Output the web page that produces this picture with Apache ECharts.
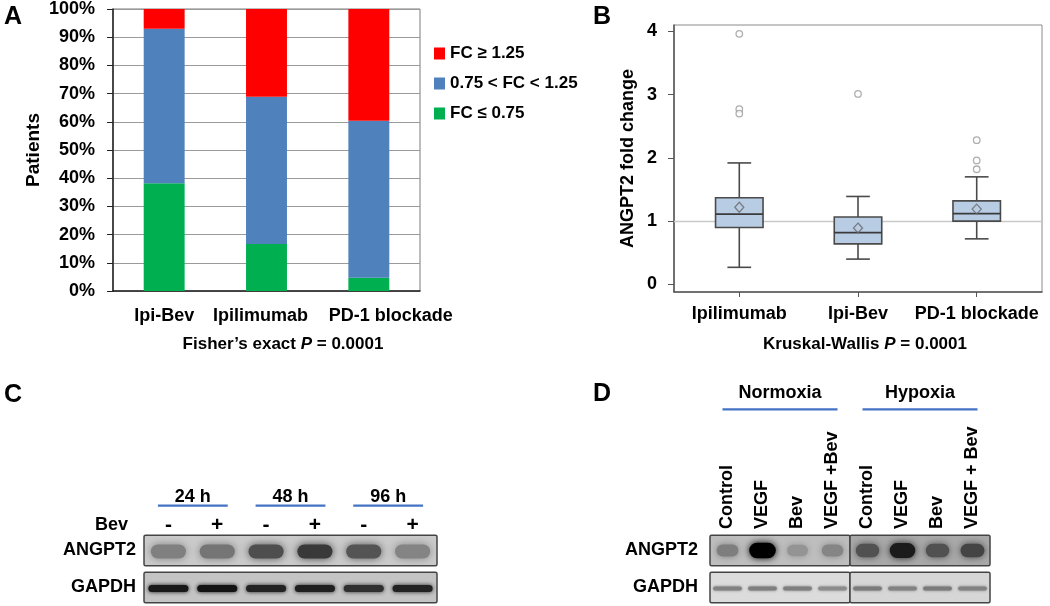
<!DOCTYPE html>
<html><head><meta charset="utf-8">
<script src="https://cdn.jsdelivr.net/npm/echarts@6/dist/echarts.min.js"></script>
<style>html,body{margin:0;padding:0;background:#fff}#c{width:1050px;height:606px}</style>
</head><body><div id="c"></div>
<script>
const FONT = '"Liberation Sans", Arial, Helvetica, sans-serif';

// ---------- Panel A data ----------
const aCategories = ['Ipi-Bev', 'Ipilimumab', 'PD-1 blockade'];
const aNames = ['FC ≥ 1.25', '0.75 < FC < 1.25', 'FC ≤ 0.75'];
const aLow = [38.2, 16.7, 4.7];    // FC ≤ 0.75
const aMid = [54.8, 52.2, 55.7];   // 0.75 < FC < 1.25
const aHigh = [7.0, 31.1, 39.6];   // FC ≥ 1.25

// ---------- Panel B data ----------
const bCategories = ['Ipilimumab', 'Ipi-Bev', 'PD-1 blockade'];
// [min whisker, Q1, median, Q3, max whisker]
const bBoxes = [
  [0.27, 0.90, 1.11, 1.37, 1.92],
  [0.40, 0.64, 0.82, 1.065, 1.39],
  [0.72, 1.00, 1.12, 1.32, 1.70]
];
const bMeans = [1.22, 0.89, 1.19];
const bOutliers = [[0, 3.96], [0, 2.77], [0, 2.70], [1, 3.01], [2, 2.28], [2, 1.96], [2, 1.82]];
const bTicks = [0, 1, 2, 3, 4];

// ---------- Panel C data ----------
const cLanes = ['-', '+', '-', '+', '-', '+'];
const cGroups = ['24 h', '48 h', '96 h'];
const cGroupLanes = [[0, 1], [2, 3], [4, 5]];
const cRows = ['ANGPT2', 'GAPDH'];
const cAngpt2 = [0.45, 0.52, 0.78, 0.92, 0.74, 0.42];
const cGapdh = [0.88, 0.92, 0.82, 0.84, 0.74, 0.82];

// ---------- Panel D data ----------
const dLanes = ['Control', 'VEGF', 'Bev', 'VEGF +Bev', 'Control', 'VEGF', 'Bev', 'VEGF + Bev'];
const dGroups = ['Normoxia', 'Hypoxia'];
const dGroupLanes = [[0, 3], [4, 7]];
const dRows = ['ANGPT2', 'GAPDH'];
const dAngpt2 = [0.3, 1.0, 0.18, 0.26, 0.55, 0.85, 0.55, 0.62];
const dGapdh = [0.5, 0.52, 0.52, 0.42, 0.55, 0.5, 0.55, 0.5];

const B = { fontFamily: FONT, fontWeight: 'bold', color: '#000' };

function bandSeries(xi, yi, rowVals, styles) {
  const data = [];
  rowVals.forEach((vals, r) => vals.forEach((v, lane) => data.push([lane, r, v])));
  return {
    type: 'custom', xAxisIndex: xi, yAxisIndex: yi, z: 4, silent: true, data,
    renderItem(params, api) {
      const lane = api.value(0), row = api.value(1), inten = api.value(2);
      const c = api.coord([lane, row]);
      const bw = api.size([1, 1])[0];
      const st = styles[row];
      const g = Math.max(0, Math.round(st.base - inten * st.span));
      const col = 'rgb(' + g + ',' + g + ',' + g + ')';
      const w = bw * st.w * (st.grow ? (0.85 + 0.3 * inten) : 1);
      const h = st.h * (st.grow ? (0.8 + 0.4 * inten) : 1);
      return {
        type: 'rect',
        shape: { x: c[0] - w / 2, y: c[1] - h / 2 + st.dy, width: w, height: h, r: h / 2 },
        style: { fill: col, shadowBlur: st.blur, shadowColor: col }
      };
    }
  };
}

function segSeries(xi, yi, groupLanes, bgs, rowsCount) {
  const data = [];
  for (let r = 0; r < rowsCount; r++) groupLanes.forEach((gl, s) => data.push([r, gl[0], gl[1], s]));
  return {
    type: 'custom', xAxisIndex: xi, yAxisIndex: yi, z: 3, silent: true, data,
    renderItem(params, api) {
      const row = api.value(0), s = api.value(3);
      const a = api.coord([api.value(1), row]), b = api.coord([api.value(2), row]);
      const sz = api.size([1, 1]);
      const h = sz[1] - 6.5;
      return {
        type: 'rect',
        shape: { x: a[0] - sz[0] / 2, y: a[1] - h / 2, width: b[0] - a[0] + sz[0], height: h, r: 1.5 },
        style: { fill: bgs[row][s], stroke: '#444', lineWidth: 1.5 }
      };
    }
  };
}

function groupSeries(xi, yi, groupLanes, labels, cfg) {
  return {
    type: 'custom', xAxisIndex: xi, yAxisIndex: yi, z: 5, silent: true,
    data: groupLanes.map(g => [g[0], g[1]]),
    renderItem(params, api) {
      const a = api.coord([api.value(0), 0]), b = api.coord([api.value(1), 0]);
      const sz = api.size([1, 1]);
      const top = a[1] - sz[1] / 2;
      return {
        type: 'group', children: [
          { type: 'line', shape: { x1: a[0] - cfg.ext, y1: top - cfg.lineOff, x2: b[0] + cfg.ext, y2: top - cfg.lineOff },
            style: { stroke: '#4472c4', lineWidth: 2.2 } },
          { type: 'text', style: { text: labels[params.dataIndex], x: (a[0] + b[0]) / 2, y: top - cfg.textOff,
            align: 'center', verticalAlign: 'middle', font: 'bold 18px ' + FONT, fill: '#000' } }
        ]
      };
    }
  };
}

const chart = echarts.init(document.getElementById('c'), null, { renderer: 'canvas' });
const option = {
  animation: false,
  backgroundColor: '#fff',
  textStyle: { fontFamily: FONT },
  grid: [
    { left: 113, top: 9, width: 307, height: 282, show: true, borderColor: '#7a7a7a', borderWidth: 1 },
    { left: 674, top: 25, width: 368, height: 267, show: true, borderColor: '#8a8a8a', borderWidth: 1 },
    { left: 144, top: 532, width: 293, height: 76 },
    { left: 710, top: 532, width: 280, height: 76 }
  ],
  legend: {
    data: aNames, orient: 'vertical', left: 429, top: 40, itemWidth: 11, itemHeight: 12, itemGap: 13,
    icon: 'rect', selectedMode: false, textStyle: Object.assign({}, B, { fontSize: 17 })
  },
  xAxis: [
    { gridIndex: 0, type: 'category',
      data: [
        { value: aCategories[0] },
        { value: aCategories[1], textStyle: { padding: [0, 12, 0, 0] } },
        { value: aCategories[2], textStyle: { padding: [0, 0, 0, 44] } }
      ],
      axisLine: { lineStyle: { color: '#222', width: 1.5 } }, axisTick: { show: false },
      axisLabel: Object.assign({}, B, { fontSize: 18, margin: 16, interval: 0 }) },
    { gridIndex: 1, type: 'value', min: -0.55, max: 2.55, splitLine: { show: false },
      axisLine: { onZero: false, lineStyle: { color: '#555', width: 1.5 } },
      axisTick: { show: true, customValues: [0, 1, 2], length: 5, lineStyle: { color: '#555' } },
      axisLabel: Object.assign({}, B, { customValues: [0, 1, 2], formatter: v => bCategories[Math.round(v)], fontSize: 18, margin: 13 }) },
    { gridIndex: 2, type: 'category', position: 'top', data: cLanes.map((_, i) => String(i)),
      axisLine: { show: false }, axisTick: { show: false },
      axisLabel: Object.assign({}, B, { formatter: (v, i) => cLanes[i], fontSize: 21, margin: -4, interval: 0 }) },
    { gridIndex: 3, type: 'category', position: 'top', data: dLanes.map((_, i) => String(i)),
      axisLine: { show: false }, axisTick: { show: false },
      axisLabel: Object.assign({}, B, { formatter: (v, i) => dLanes[i], rotate: -90, fontSize: 18, margin: 3, interval: 0 }) }
  ],
  yAxis: [
    { gridIndex: 0, type: 'value', min: 0, max: 100, interval: 10,
      axisLabel: Object.assign({}, B, { formatter: '{value}%', fontSize: 18, margin: 18 }),
      axisLine: { show: true, lineStyle: { color: '#222', width: 1.5 } },
      axisTick: { show: true, length: 6, lineStyle: { color: '#222' } },
      splitLine: { lineStyle: { color: '#9a9a9a', width: 1 } },
      name: 'Patients', nameLocation: 'middle', nameGap: 70, nameRotate: 90,
      nameTextStyle: Object.assign({}, B, { fontSize: 19 }) },
    { gridIndex: 1, type: 'value', min: -0.12, max: 4.1,
      axisLabel: Object.assign({}, B, { customValues: bTicks, fontSize: 18, margin: 17 }),
      axisTick: { show: true, customValues: bTicks, length: 6, lineStyle: { color: '#555' } },
      axisLine: { show: true, onZero: false, lineStyle: { color: '#555', width: 1.5 } },
      splitLine: { show: false },
      name: 'ANGPT2 fold change', nameLocation: 'middle', nameGap: 37, nameRotate: 90,
      nameTextStyle: Object.assign({}, B, { fontSize: 18 }) },
    { gridIndex: 2, type: 'category', data: cRows, inverse: true,
      axisLine: { show: false }, axisTick: { show: false },
      axisLabel: Object.assign({}, B, { fontSize: 18, margin: 8 }) },
    { gridIndex: 3, type: 'category', data: dRows, inverse: true,
      axisLine: { show: false }, axisTick: { show: false },
      axisLabel: Object.assign({}, B, { fontSize: 18, margin: 12 }) }
  ],
  series: [
    { name: aNames[2], type: 'bar', stack: 'a', xAxisIndex: 0, yAxisIndex: 0, barWidth: '40%', data: aLow, itemStyle: { color: '#00b050' } },
    { name: aNames[1], type: 'bar', stack: 'a', xAxisIndex: 0, yAxisIndex: 0, barWidth: '40%', data: aMid, itemStyle: { color: '#4f81bd' } },
    { name: aNames[0], type: 'bar', stack: 'a', xAxisIndex: 0, yAxisIndex: 0, barWidth: '40%', data: aHigh, itemStyle: { color: '#ff0000' } },
    {
      type: 'custom', xAxisIndex: 1, yAxisIndex: 1, z: 3,
      data: bBoxes.map((b, i) => [i].concat(b)),
      markLine: { silent: true, symbol: 'none', label: { show: false }, z: 1,
        lineStyle: { color: '#c9c9c9', type: 'solid', width: 1.3 }, data: [{ yAxis: 1 }] },
      renderItem(params, api) {
        const x = api.value(0);
        const p = [1, 2, 3, 4, 5].map(k => api.coord([x, api.value(k)]));
        const boxW = api.size([0.4, 0])[0], capW = api.size([0.2, 0])[0];
        const cx = p[2][0];
        const st = { stroke: '#4a4a4a', lineWidth: 1.6 };
        return { type: 'group', children: [
          { type: 'line', shape: { x1: cx, y1: p[4][1], x2: cx, y2: p[3][1] }, style: st },
          { type: 'line', shape: { x1: cx, y1: p[1][1], x2: cx, y2: p[0][1] }, style: st },
          { type: 'line', shape: { x1: cx - capW / 2, y1: p[4][1], x2: cx + capW / 2, y2: p[4][1] }, style: st },
          { type: 'line', shape: { x1: cx - capW / 2, y1: p[0][1], x2: cx + capW / 2, y2: p[0][1] }, style: st },
          { type: 'rect', shape: { x: cx - boxW / 2, y: p[3][1], width: boxW, height: p[1][1] - p[3][1] },
            style: { fill: '#b8cce4', stroke: '#4a4a4a', lineWidth: 1.6 } },
          { type: 'line', shape: { x1: cx - boxW / 2, y1: p[2][1], x2: cx + boxW / 2, y2: p[2][1] }, style: { stroke: '#3a3a3a', lineWidth: 1.8 } }
        ] };
      }
    },
    { type: 'scatter', xAxisIndex: 1, yAxisIndex: 1, z: 5, symbol: 'diamond', symbolSize: [9, 10],
      data: bMeans.map((m, i) => [i, m]),
      itemStyle: { color: 'rgba(0,0,0,0)', borderColor: '#666', borderWidth: 1.3 } },
    { type: 'scatter', xAxisIndex: 1, yAxisIndex: 1, z: 5, symbol: 'circle', symbolSize: 6.5,
      data: bOutliers,
      itemStyle: { color: '#fff', borderColor: '#9a9a9a', borderWidth: 1.3 } },

    segSeries(2, 2, [[0, 5]], [['#cbcbcb'], ['#c4c4c4']], 2),
    bandSeries(2, 2, [cAngpt2, cGapdh], [
      { base: 195, span: 150, w: 0.72, h: 14, blur: 9, dy: 1, grow: false },
      { base: 165, span: 160, w: 0.82, h: 7, blur: 4, dy: 1, grow: false }
    ]),
    groupSeries(2, 2, cGroupLanes, cGroups, { ext: 10.5, lineOff: 26.3, textOff: 35.3 }),

    segSeries(3, 3, dGroupLanes, [['#bebebe', '#a9a9a9'], ['#dcdcdc', '#d6d6d6']], 2),
    bandSeries(3, 3, [dAngpt2, dGapdh], [
      { base: 180, span: 180, w: 0.66, h: 13, blur: 7, dy: 0, grow: true },
      { base: 200, span: 140, w: 0.82, h: 4, blur: 3, dy: 1, grow: false }
    ]),
    groupSeries(3, 3, dGroupLanes, dGroups, { ext: 5, lineOff: 122.7, textOff: 138.7 })
  ],
  graphic: [
    { type: 'text', x: 4, y: 17, style: { text: 'A', font: 'bold 25px ' + FONT, fill: '#000', verticalAlign: 'middle' } },
    { type: 'text', x: 593, y: 17, style: { text: 'B', font: 'bold 25px ' + FONT, fill: '#000', verticalAlign: 'middle' } },
    { type: 'text', x: 4, y: 395, style: { text: 'C', font: 'bold 25px ' + FONT, fill: '#000', verticalAlign: 'middle' } },
    { type: 'text', x: 593, y: 394, style: { text: 'D', font: 'bold 25px ' + FONT, fill: '#000', verticalAlign: 'middle' } },
    { type: 'text', x: 128, y: 525, style: { text: 'Bev', font: 'bold 18px ' + FONT, fill: '#000', align: 'right', verticalAlign: 'middle' } },
    { type: 'text', x: 283, y: 344, style: {
        text: '{n|Fisher’s exact }{i|P}{n| = 0.0001}', align: 'center', verticalAlign: 'middle',
        rich: { n: { font: 'bold 17px ' + FONT, fill: '#000' }, i: { font: 'italic bold 17px ' + FONT, fill: '#000' } } } },
    { type: 'text', x: 865, y: 344, style: {
        text: '{n|Kruskal-Wallis }{i|P}{n| = 0.0001}', align: 'center', verticalAlign: 'middle',
        rich: { n: { font: 'bold 17px ' + FONT, fill: '#000' }, i: { font: 'italic bold 17px ' + FONT, fill: '#000' } } } }
  ]
};
chart.setOption(option);
</script>
</body></html>
